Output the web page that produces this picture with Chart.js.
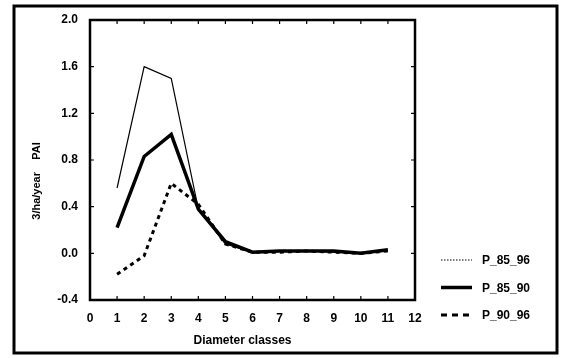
<!DOCTYPE html>
<html>
<head>
<meta charset="utf-8">
<script src="https://cdn.jsdelivr.net/npm/chart.js@4/dist/chart.umd.min.js"></script>
<style>
  html, body { margin: 0; padding: 0; background: #fff; }
  #wrap { width: 561px; height: 358px; }
</style>
</head>
<body>
<div id="wrap"><canvas id="paiChart" width="561" height="358"></canvas></div>
<script>
// diameter classes and periodic annual increment per period
const classes = [1, 2, 3, 4, 5, 6, 7, 8, 9, 10, 11];
const p_85_96 = [0.56, 1.60, 1.50, 0.38, 0.08, 0.01, 0.02, 0.02, 0.01, 0.00, 0.02];
const p_85_90 = [0.22, 0.83, 1.02, 0.38, 0.10, 0.01, 0.02, 0.02, 0.02, 0.00, 0.03];
const p_90_96 = [-0.18, -0.02, 0.60, 0.42, 0.08, 0.01, 0.01, 0.02, 0.01, 0.00, 0.02];
const seriesNames = ["P_85_96", "P_85_90", "P_90_96"];
const xTicks = [0, 1, 2, 3, 4, 5, 6, 7, 8, 9, 10, 11, 12];
const yTicks = [-0.4, 0.0, 0.4, 0.8, 1.2, 1.6, 2.0];

const FONT = "'Liberation Sans', Arial, sans-serif";

function points(values) {
  return classes.map((c, i) => ({ x: c, y: values[i] }));
}

// frame, inward ticks, axis titles and legend drawn on top of the chart
const decorations = {
  id: "decorations",
  afterDraw(chart) {
    const ctx = chart.ctx;
    const a = chart.chartArea;
    const xs = chart.scales.x;
    const ys = chart.scales.y;
    ctx.save();
    ctx.strokeStyle = "#000";

    // outer box
    ctx.lineWidth = 3;
    ctx.strokeRect(14, 6, 543, 347);

    // plot frame
    ctx.lineWidth = 2.5;
    ctx.strokeRect(a.left, a.top, a.right - a.left, a.bottom - a.top);

    // small ticks pointing into the plot
    ctx.lineWidth = 1.2;
    ctx.beginPath();
    xTicks.forEach((v) => {
      const px = xs.getPixelForValue(v);
      ctx.moveTo(px, a.top); ctx.lineTo(px, a.top + 4);
      ctx.moveTo(px, a.bottom); ctx.lineTo(px, a.bottom - 4);
    });
    yTicks.forEach((v) => {
      const py = ys.getPixelForValue(v);
      ctx.moveTo(a.left, py); ctx.lineTo(a.left + 4, py);
      ctx.moveTo(a.right, py); ctx.lineTo(a.right - 4, py);
    });
    ctx.stroke();

    ctx.fillStyle = "#000";
    ctx.textAlign = "center";
    ctx.textBaseline = "middle";

    // x axis title
    ctx.font = "bold 12px " + FONT;
    ctx.fillText("Diameter classes", (a.left + a.right) / 2 - 10, 341);

    // y axis title
    ctx.font = "bold 11px " + FONT;
    ctx.save();
    ctx.translate(37, 181);
    ctx.rotate(-Math.PI / 2);
    ctx.fillText("3/ha/year    PAI", 0, 0);
    ctx.restore();

    // legend
    ctx.font = "bold 12px " + FONT;
    ctx.textAlign = "left";
    chart.data.datasets.forEach((ds, i) => {
      const y = 260 + i * 27.5;
      ctx.save();
      ctx.lineWidth = ds.borderWidth;
      ctx.strokeStyle = ds.borderColor;
      ctx.setLineDash(ds.legendDash || []);
      ctx.beginPath();
      ctx.moveTo(441, y);
      ctx.lineTo(472, y);
      ctx.stroke();
      ctx.restore();
      ctx.fillText(ds.label, 482, y + 1);
    });
    ctx.restore();
  }
};

new Chart(document.getElementById("paiChart").getContext("2d"), {
  type: "line",
  data: {
    datasets: [
      {
        label: seriesNames[0],
        data: points(p_85_96),
        borderColor: "#000",
        borderWidth: 1.2,
        legendDash: [1.5, 1.5],
      },
      {
        label: seriesNames[1],
        data: points(p_85_90),
        borderColor: "#000",
        borderWidth: 3.5,
      },
      {
        label: seriesNames[2],
        data: points(p_90_96),
        borderColor: "#000",
        borderWidth: 3,
        borderDash: [4, 4],
        legendDash: [6, 5],
      },
    ],
  },
  options: {
    responsive: false,
    animation: false,
    layout: { padding: { left: 0, top: 20, right: 146, bottom: 0 } },
    elements: {
      point: { radius: 0 },
      line: { tension: 0, fill: false },
    },
    plugins: {
      legend: { display: false },
      tooltip: { enabled: false },
    },
    scales: {
      x: {
        type: "linear",
        min: 0,
        max: 12,
        afterFit: (s) => { s.height = 58; },
        afterBuildTicks: (s) => { s.ticks = xTicks.map((v) => ({ value: v })); },
        grid: { display: false, drawTicks: false },
        border: { display: false },
        ticks: {
          padding: 11,
          color: "#000",
          font: { family: FONT, size: 12, weight: "bold" },
          maxRotation: 0,
        },
      },
      y: {
        min: -0.4,
        max: 2.0,
        afterFit: (s) => { s.width = 90; },
        afterBuildTicks: (s) => { s.ticks = yTicks.map((v) => ({ value: v })); },
        grid: { display: false, drawTicks: false },
        border: { display: false },
        ticks: {
          padding: 12,
          color: "#000",
          font: { family: FONT, size: 12, weight: "bold" },
          callback: (v) => Number(v).toFixed(1),
        },
      },
    },
  },
  plugins: [decorations],
});
</script>
</body>
</html>
